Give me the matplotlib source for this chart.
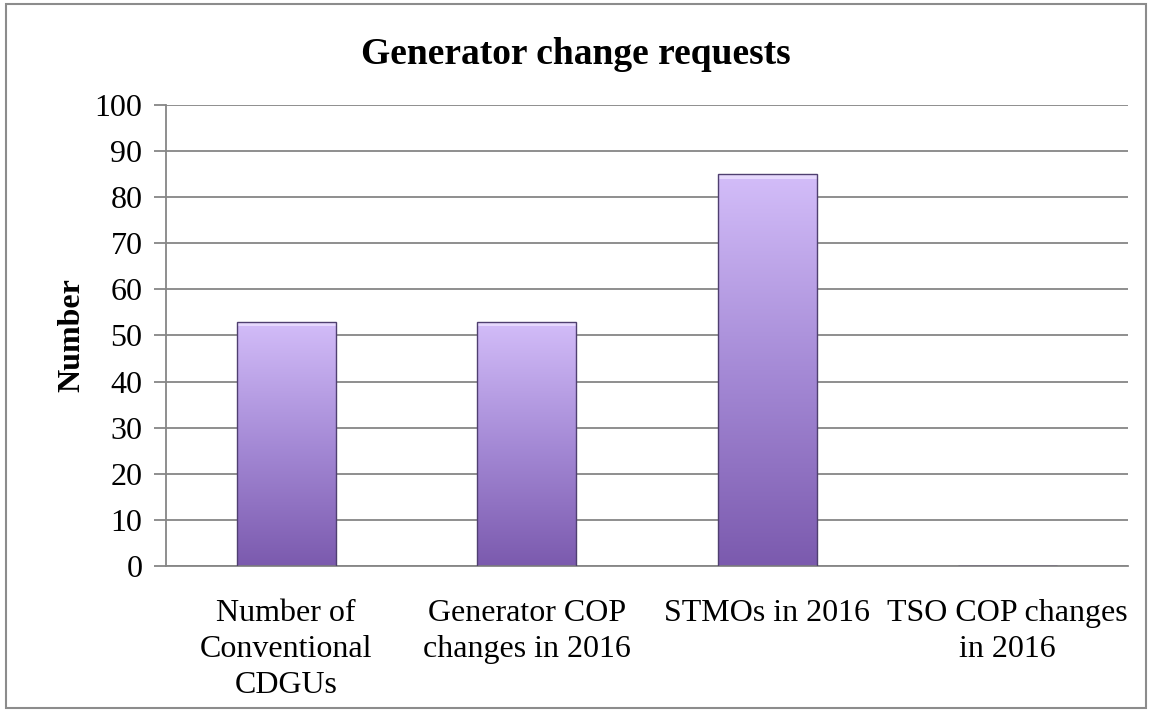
import numpy as np
import matplotlib.pyplot as plt
from matplotlib.patches import Rectangle
from matplotlib.colors import LinearSegmentedColormap

categories = ["Number of\nConventional\nCDGUs", "Generator COP\nchanges in 2016",
              "STMOs in 2016", "TSO COP changes\nin 2016"]
values = [53, 53, 85, 0]
yticks = list(range(0, 101, 10))

plt.rcParams['font.family'] = ['Liberation Serif', 'DejaVu Serif']

fig = plt.figure(figsize=(11.52, 7.12), dpi=100)
ax = fig.add_axes([0.1441, 0.2051, 0.835, 0.6474])

# outer chart border
fig.patches.append(Rectangle((0.005, 0.006), 0.99, 0.988, transform=fig.transFigure,
                             fill=False, edgecolor='#8c8c8c', linewidth=1.5))

x = np.arange(len(categories))
width = 0.41
cmap = LinearSegmentedColormap.from_list('purp', ['#7b5aae', '#a58ad6', '#d3bdf9'])
grad = np.linspace(0, 1, 256).reshape(-1, 1)

bars = ax.bar(x, values, width=width, color='none', edgecolor='#4f3f70', linewidth=1.0, zorder=3)
for b in bars:
    if b.get_height() <= 0:
        continue
    x0, y0 = b.get_x(), b.get_y()
    im = ax.imshow(grad, cmap=cmap, origin='lower', aspect='auto',
                   extent=[x0, x0 + b.get_width(), y0, y0 + b.get_height()], zorder=2)
    im.set_clip_path(b)
    # light bevel along the top edge
    ax.add_patch(Rectangle((x0, y0 + b.get_height() - 1.0), b.get_width(), 1.0,
                           facecolor='#ece0ff', edgecolor='none', alpha=0.8, zorder=2.5))

ax.set_xlim(-0.5, len(categories) - 0.5)
ax.set_ylim(0, 100)
ax.set_yticks(yticks)
ax.yaxis.grid(True, color='#868686', linewidth=1.3)
ax.set_axisbelow(True)
ax.set_xticks(x)
ax.set_xticklabels(categories, fontsize=23, linespacing=1.3)
ax.tick_params(axis='x', length=0, pad=24)
ax.tick_params(axis='y', labelsize=23, length=9, width=1.3, color='#868686', pad=8)

for s in ['top', 'right']:
    ax.spines[s].set_visible(False)
for s in ['left', 'bottom']:
    ax.spines[s].set_color('#868686')
    ax.spines[s].set_linewidth(1.3)

ax.set_ylabel("Number", fontsize=23, fontweight='bold', labelpad=6)
fig.suptitle("Generator change requests", fontsize=27, fontweight='bold', y=0.948)

fig.savefig("out.png", dpi=100)
